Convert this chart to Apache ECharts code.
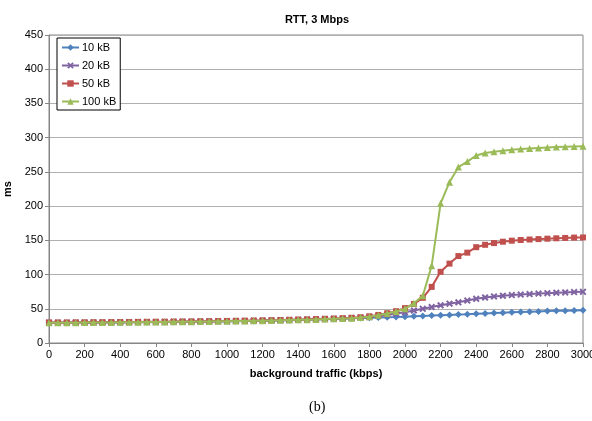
<!DOCTYPE html>
<html>
<head>
<meta charset="utf-8">
<script src="https://cdn.jsdelivr.net/npm/echarts@6/dist/echarts.min.js"></script>
<style>
  html, body { margin: 0; padding: 0; background: #fff; }
  #chart { width: 592px; height: 421px; }
</style>
</head>
<body>
<div id="chart"></div>
<script>
// Background traffic (kbps), sampled every 50 kbps
const traffic = [
  0, 50, 100, 150, 200, 250, 300, 350, 400, 450,
  500, 550, 600, 650, 700, 750, 800, 850, 900, 950,
  1000, 1050, 1100, 1150, 1200, 1250, 1300, 1350, 1400, 1450,
  1500, 1550, 1600, 1650, 1700, 1750, 1800, 1850, 1900, 1950,
  2000, 2050, 2100, 2150, 2200, 2250, 2300, 2350, 2400, 2450,
  2500, 2550, 2600, 2650, 2700, 2750, 2800, 2850, 2900, 2950, 3000
];

// RTT (ms) per transfer size
const rtt10kB = [
  29.5, 29.5, 29.5, 29.6, 29.7, 29.8, 29.9, 30.0, 30.1, 30.2,
  30.3, 30.4, 30.5, 30.6, 30.8, 30.9, 31.0, 31.2, 31.3, 31.5,
  31.7, 31.9, 32.1, 32.3, 32.5, 32.8, 33.1, 33.4, 33.7, 34.0,
  34.4, 34.8, 35.2, 35.6, 36.0, 36.4, 36.8, 37.2, 37.6, 38.0,
  38.5, 39.0, 39.5, 40.0, 40.5, 41.0, 41.5, 42.0, 42.6, 43.2,
  43.8, 44.3, 44.8, 45.3, 45.8, 46.2, 46.6, 47.0, 47.3, 47.6, 47.9
];
const rtt20kB = [
  29.7, 29.7, 29.7, 29.8, 29.9, 30.0, 30.1, 30.2, 30.3, 30.4,
  30.5, 30.6, 30.7, 30.8, 31.0, 31.1, 31.2, 31.4, 31.5, 31.7,
  31.9, 32.1, 32.3, 32.5, 32.7, 33.0, 33.3, 33.6, 33.9, 34.2,
  34.6, 35.0, 35.4, 35.9, 36.4, 37.0, 38.0, 39.5, 41.0, 43.0,
  45.0, 47.5, 50.0, 52.5, 55.0, 57.5, 59.5, 62.0, 64.5, 66.5,
  68.0, 69.0, 70.0, 70.8, 71.5, 72.2, 72.8, 73.4, 73.9, 74.4, 74.8
];
const rtt50kB = [
  30.0, 30.0, 30.0, 30.1, 30.2, 30.3, 30.4, 30.5, 30.6, 30.7,
  30.8, 30.9, 31.0, 31.1, 31.3, 31.4, 31.5, 31.7, 31.8, 32.0,
  32.2, 32.4, 32.6, 32.8, 33.0, 33.3, 33.6, 33.9, 34.2, 34.5,
  34.9, 35.3, 35.7, 36.2, 36.8, 37.6, 39.0, 41.0, 43.5, 46.5,
  51.0, 57.0, 66.0, 82.0, 104.0, 116.0, 127.0, 132.0, 140.0, 143.5,
  146.0, 148.0, 149.5, 150.5, 151.2, 151.8, 152.4, 153.0, 153.5, 154.0, 154.2
];
const rtt100kB = [
  29.6, 29.6, 29.6, 29.7, 29.8, 29.9, 30.0, 30.1, 30.2, 30.3,
  30.4, 30.5, 30.6, 30.7, 30.9, 31.0, 31.1, 31.3, 31.4, 31.6,
  31.8, 32.0, 32.2, 32.4, 32.6, 32.9, 33.2, 33.5, 33.8, 34.1,
  34.5, 34.9, 35.3, 35.8, 36.3, 37.2, 38.5, 40.5, 43.0, 46.0,
  50.0, 58.0, 69.0, 113.0, 204.0, 235.0, 257.0, 265.0, 274.0, 277.5,
  279.5, 281.0, 282.5, 283.5, 284.3, 285.0, 285.6, 286.2, 286.7, 287.0, 287.3
];

const seriesNames = ['10 kB', '20 kB', '50 kB', '100 kB'];
const seriesColors = ['#4F81BD', '#8064A2', '#C0504D', '#9BBB59'];

const crossSymbol = 'path://M2,0L5,3L8,0L10,2L7,5L10,8L8,10L5,7L2,10L0,8L3,5L0,2Z';
const symbols = ['diamond', crossSymbol, 'rect', 'triangle'];
const symbolSizes = [7, 7, 6, 7];
const values = [rtt10kB, rtt20kB, rtt50kB, rtt100kB];

const FONT = '"Liberation Sans", Arial, sans-serif';

const chart = echarts.init(document.getElementById('chart'), null, { renderer: 'canvas' });

chart.setOption({
  animation: false,
  backgroundColor: '#ffffff',
  textStyle: { fontFamily: FONT, color: '#000' },
  title: {
    text: 'RTT, 3 Mbps',
    left: 312,
    top: 9,
    textAlign: 'center',
    textStyle: { fontFamily: FONT, fontSize: 11, fontWeight: 'bold', color: '#000' }
  },
  legend: {
    orient: 'vertical',
    left: 57,
    top: 38,
    padding: [3, 4, 2, 4],
    itemGap: 5,
    itemWidth: 17,
    itemHeight: 8,
    borderColor: '#000',
    borderWidth: 1,
    backgroundColor: '#fff',
    data: seriesNames,
    textStyle: { fontFamily: FONT, fontSize: 11, color: '#000', padding: [0, 0, 0, -2], lineHeight: 13 }
  },
  grid: {
    left: 49,
    right: 9,
    top: 35,
    bottom: 78,
    show: true,
    borderColor: '#868686',
    borderWidth: 1,
    containLabel: false,
    outerBoundsMode: 'none'
  },
  xAxis: {
    type: 'value',
    min: 0,
    max: 3000,
    interval: 200,
    name: 'background traffic (kbps)',
    nameLocation: 'middle',
    nameGap: 25,
    nameTextStyle: { fontFamily: FONT, fontSize: 11, fontWeight: 'bold', color: '#000' },
    axisLine: { show: true, lineStyle: { color: '#868686', width: 1 } },
    axisTick: { show: true, length: 4, lineStyle: { color: '#868686' } },
    axisLabel: {
      fontFamily: FONT, fontSize: 11, color: '#000', margin: 6,
      showMaxLabel: true, hideOverlap: false,
      formatter: v => String(v)
    },
    splitLine: { show: false }
  },
  yAxis: {
    type: 'value',
    min: 0,
    max: 450,
    interval: 50,
    name: 'ms',
    nameLocation: 'middle',
    nameGap: 34,
    nameRotate: 90,
    nameTextStyle: { fontFamily: FONT, fontSize: 11, fontWeight: 'bold', color: '#000' },
    axisLine: { show: true, lineStyle: { color: '#868686', width: 1 } },
    axisTick: { show: true, length: 4, lineStyle: { color: '#868686' } },
    axisLabel: { fontFamily: FONT, fontSize: 11, color: '#000', margin: 6, formatter: v => String(v) },
    splitLine: { show: true, lineStyle: { color: '#b0b0b0', width: 1 } }
  },
  series: seriesNames.map((name, i) => ({
    name: name,
    type: 'line',
    data: traffic.map((x, k) => [x, values[i][k]]),
    symbol: symbols[i],
    symbolSize: symbolSizes[i],
    showAllSymbol: true,
    itemStyle: { color: seriesColors[i] },
    lineStyle: { color: seriesColors[i], width: 2 },
    z: 2 + i
  })),
  graphic: [
    {
      type: 'text',
      left: 309,
      top: 400,
      style: {
        text: '(b)',
        fontFamily: '"Liberation Serif", "Times New Roman", serif',
        fontSize: 14,
        fill: '#000'
      }
    }
  ]
});
</script>
</body>
</html>
